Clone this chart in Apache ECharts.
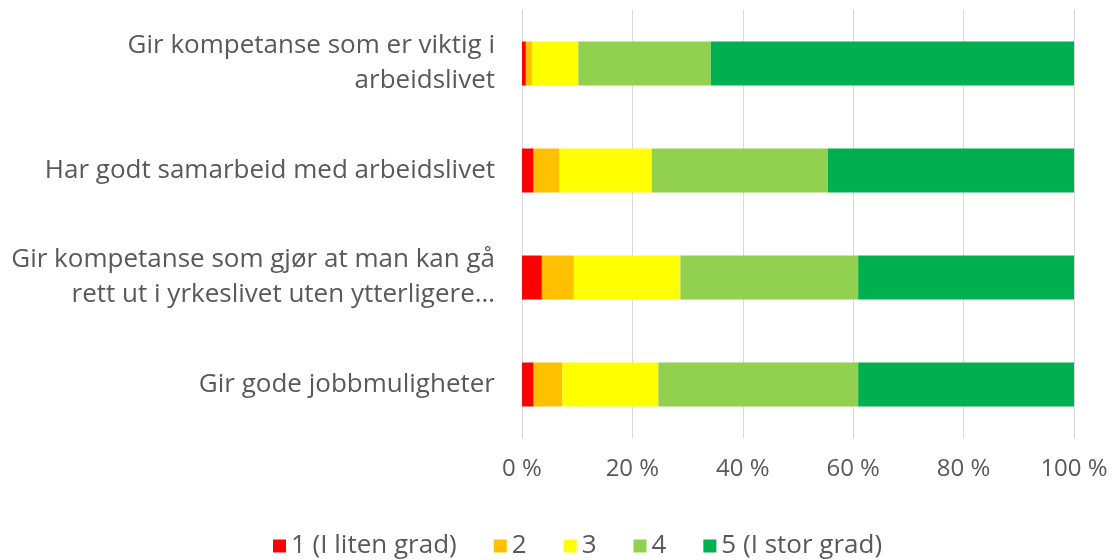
<!DOCTYPE html>
<html>
<head>
<meta charset="utf-8">
<script src="https://cdn.jsdelivr.net/npm/echarts@6/dist/echarts.min.js"></script>
<style>
  html, body { margin: 0; padding: 0; background: #fff; }
  #chart { width: 1118px; height: 560px; }
</style>
</head>
<body>
<div id="chart"></div>
<script>
// categories, top to bottom
const categories = [
  'Gir kompetanse som er viktig i\narbeidslivet',
  'Har godt samarbeid med arbeidslivet',
  'Gir kompetanse som gjør at man kan gå\nrett ut i yrkeslivet uten ytterligere…',
  'Gir gode jobbmuligheter'
]
const seriesNames = ['1 (I liten grad)', '2', '3', '4', '5 (I stor grad)']
const colors = ['#FF0000', '#FFC000', '#FFFF00', '#92D050', '#00B050']
// share in % per answer, same order as categories
const grade1 = [0.7, 2.1, 3.6, 2.1]
const grade2 = [1.1, 4.7, 5.8, 5.2]
const grade3 = [8.4, 16.7, 19.3, 17.4]
const grade4 = [24.0, 31.9, 32.2, 36.2]
const grade5 = [65.8, 44.6, 39.1, 39.1]
const values = [grade1, grade2, grade3, grade4, grade5]

const textColor = '#595959'
const font = 'Open Sans'

const chart = echarts.init(document.getElementById('chart'))
const option = {
  animation: false,
  textStyle: { fontFamily: font },
  grid: { left: 522, right: 44, top: 10, bottom: 122 },
  legend: {
    top: 528,
    left: 268,
    itemWidth: 13,
    itemHeight: 13,
    itemGap: 37,
    icon: 'rect',
    textStyle: { fontSize: 26, color: textColor, fontFamily: font },
    data: seriesNames
  },
  xAxis: {
    type: 'value',
    min: 0,
    max: 100,
    interval: 20,
    axisLine: { show: false },
    axisTick: { show: false },
    splitLine: { lineStyle: { color: '#d9d9d9', width: 1 } },
    axisLabel: {
      formatter: '{value} %',
      fontSize: 24,
      color: textColor,
      margin: 19
    }
  },
  yAxis: {
    type: 'category',
    inverse: true,
    data: categories,
    axisLine: { show: false },
    axisTick: { show: false },
    axisLabel: {
      fontSize: 26,
      color: textColor,
      margin: 27,
      lineHeight: 35,
      align: 'right'
    }
  },
  series: seriesNames.map((name, i) => ({
    name: name,
    type: 'bar',
    stack: 'total',
    barWidth: 44,
    itemStyle: { color: colors[i] },
    data: values[i]
  }))
}
chart.setOption(option)
</script>
</body>
</html>
